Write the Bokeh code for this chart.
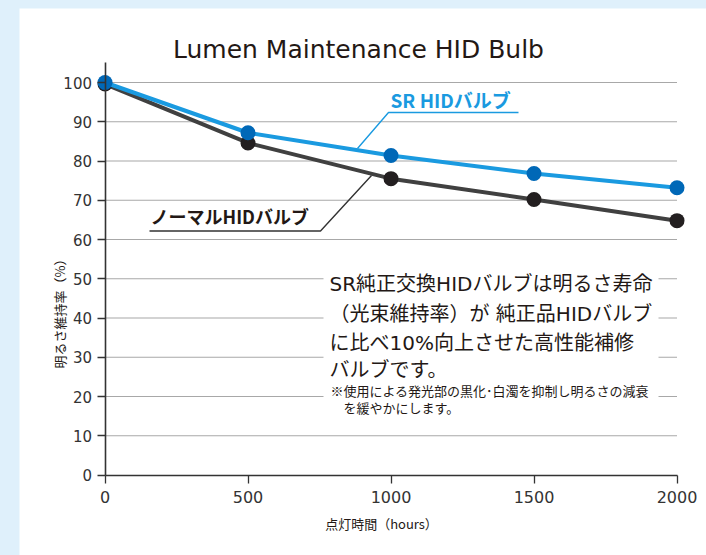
import math
from bokeh.plotting import figure
from bokeh.models import Range1d, Label, LinearAxis, FixedTicker, ColumnDataSource
from bokeh.embed import file_html
from bokeh.resources import INLINE

# ---------------- data ----------------
hours = [0, 500, 1000, 1500, 2000]
sr_hid = [100, 87.2, 81.4, 76.8, 73.2]
normal_hid = [99.6, 84.6, 75.5, 70.2, 64.8]
y_ticks = [0, 10, 20, 30, 40, 50, 60, 70, 80, 90, 100]
x_ticks = [0, 500, 1000, 1500, 2000]

title_text = "Lumen Maintenance HID Bulb"
x_title = "点灯時間（hours）"
y_title = "明るさ維持率（%）"
sr_label = "SR HIDバルブ"
normal_label = "ノーマルHIDバルブ"
body_lines = ["SR純正交換HIDバルブは明るさ寿命",
              "（光束維持率）が 純正品HIDバルブ",
              "に比べ10%向上させた高性能補修",
              "バルブです。"]
note_lines = ["※使用による発光部の黒化･白濁を抑制し明るさの減衰",
              "を緩やかにします。"]

# ---------------- layout (page pixels) ----------------
FIG_LEFT, FIG_TOP = 19, 8
W, H = 687, 547
X0_PX, X2000_PX = 104.5, 676.5
Y0_PX, Y100_PX = 474.5, 82.0
sx = (X2000_PX - X0_PX) / 2000.0
sy = (Y0_PX - Y100_PX) / 100.0

def dx(px):
    return (px - X0_PX) / sx

def dy(py):
    return (Y0_PX - py) / sy

x_start, x_end = dx(FIG_LEFT), dx(FIG_LEFT + W)
y_start, y_end = dy(FIG_TOP + H), dy(FIG_TOP)

CJK = "Noto Sans CJK JP"
MIX = "'DejaVu Sans', 'Noto Sans CJK JP'"
LAT = "DejaVu Sans"
TXT = "#231815"

p = figure(width=W, height=H, x_range=Range1d(x_start, x_end), y_range=Range1d(y_start, y_end),
           output_backend="svg", toolbar_location=None, x_axis_type=None, y_axis_type=None,
           min_border=0, title=None)
p.margin = (FIG_TOP, 0, 0, FIG_LEFT)
p.outline_line_color = None
p.background_fill_color = "white"
p.border_fill_color = "white"

# grid lines (only inside the data area)
grid_src = ColumnDataSource(dict(y=y_ticks[1:], x0=[0] * (len(y_ticks) - 1), x1=[2000] * (len(y_ticks) - 1)))
p.segment(x0="x0", y0="y", x1="x1", y1="y", source=grid_src, line_color="#a8a8a8", line_width=1.2)

# axes fixed at the origin
yaxis = LinearAxis(fixed_location=0, bounds=(0, dy(62)), ticker=FixedTicker(ticks=y_ticks))
xaxis = LinearAxis(fixed_location=0, bounds=(0, 2000), ticker=FixedTicker(ticks=x_ticks))
for ax in (xaxis, yaxis):
    ax.axis_line_color = "#333333"
    ax.axis_line_width = 1.6
    ax.major_tick_line_color = "#333333"
    ax.major_tick_line_width = 1.3
    ax.major_tick_in = 0
    ax.major_tick_out = 8
    ax.minor_tick_line_color = None
    ax.major_label_text_font = LAT
    ax.major_label_text_color = "#333333"
yaxis.major_label_text_font_size = "15px"
xaxis.major_label_text_font_size = "16px"
yaxis.major_label_standoff = 5
xaxis.major_label_standoff = 8
p.add_layout(yaxis, "left")
p.add_layout(xaxis, "below")

# white box behind the explanation text
p.quad(left=dx(323), right=dx(658), top=dy(262), bottom=dy(420), fill_color="white", line_color=None)

# data
p.line(hours, normal_hid, line_width=4, line_color="#404040")
p.scatter(hours, normal_hid, size=15, fill_color="#231f20", line_color=None)
p.line(hours, sr_hid, line_width=4, line_color="#1a9ae0")
p.scatter(hours, sr_hid, size=15, fill_color="#0068b7", line_color=None)

# callout leaders
p.line([dx(357), dx(388), dx(518)], [dy(148), dy(112), dy(112)], line_color="#1a9ae0", line_width=1.4)
p.line([dx(149), dx(320), dx(371)], [dy(230.5), dy(230.5), dy(175)], line_color="#333333", line_width=1.4)

p.add_layout(Label(x=dx(390), y=dy(99), text=sr_label, text_font=CJK, text_font_style="bold",
                   text_font_size="19px", text_color="#1a9ae0", text_baseline="middle", text_align="left"))
p.add_layout(Label(x=dx(150), y=dy(215), text=normal_label, text_font=CJK, text_font_style="bold",
                   text_font_size="18px", text_color="#231815", text_baseline="middle", text_align="left"))

# title and axis titles
p.add_layout(Label(x=dx(358), y=dy(49), text=title_text, text_font=LAT, text_font_size="25px",
                   text_color=TXT, text_baseline="middle", text_align="center"))
p.add_layout(Label(x=dx(381), y=dy(523), text=x_title, text_font=CJK, text_font_size="13px",
                   text_color=TXT, text_baseline="middle", text_align="center"))
p.add_layout(Label(x=dx(59), y=dy(310), text=y_title, text_font=CJK, text_font_size="13px",
                   text_color=TXT, text_baseline="middle", text_align="center", angle=math.pi / 2))

# explanation text
for txt, ypx in zip(body_lines, [283, 313, 342, 369]):
    p.add_layout(Label(x=dx(329), y=dy(ypx), text=txt, text_font=MIX, text_font_size="20px",
                       text_color=TXT, text_baseline="middle", text_align="left"))
for txt, xpx, ypx in zip(note_lines, [330, 343], [390, 407]):
    p.add_layout(Label(x=dx(xpx), y=dy(ypx), text=txt, text_font=CJK, text_font_size="13px",
                       text_color=TXT, text_baseline="middle", text_align="left"))

html = file_html(p, INLINE)
html = html.replace("<head>", "<head><style>html,body{margin:0;padding:0;background:#dff0fb;overflow:hidden;}</style>", 1)
open("out.html", "w").write(html)
